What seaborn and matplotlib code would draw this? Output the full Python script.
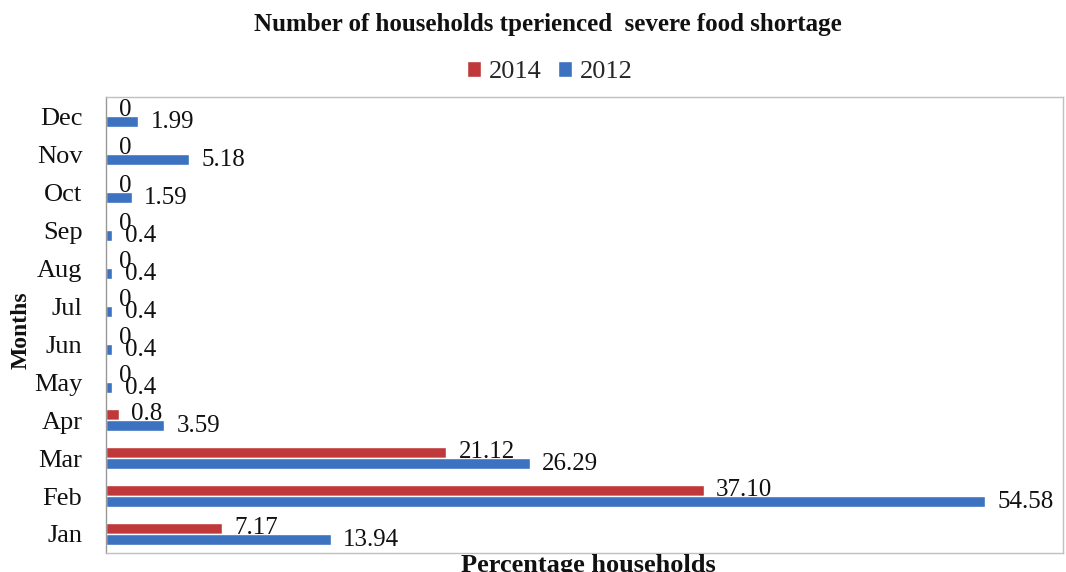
import matplotlib
matplotlib.use("Agg")
import matplotlib.pyplot as plt
import seaborn as sns
import pandas as pd

months = ["Dec", "Nov", "Oct", "Sep", "Aug", "Jul", "Jun", "May", "Apr", "Mar", "Feb", "Jan"]
vals_2014 = [0, 0, 0, 0, 0, 0, 0, 0, 0.8, 21.12, 37.10, 7.17]
vals_2012 = [1.99, 5.18, 1.59, 0.4, 0.4, 0.4, 0.4, 0.4, 3.59, 26.29, 54.58, 13.94]
labels_2014 = ["0", "0", "0", "0", "0", "0", "0", "0", "0.8", "21.12", "37.10", "7.17"]
labels_2012 = ["1.99", "5.18", "1.59", "0.4", "0.4", "0.4", "0.4", "0.4", "3.59", "26.29", "54.58", "13.94"]
series = ["2014", "2012"]

df = pd.DataFrame({
    "Month": months * 2,
    "Value": vals_2014 + vals_2012,
    "Year": [series[0]] * len(months) + [series[1]] * len(months),
})

sns.set_style("white")
plt.rcParams["font.family"] = ["Liberation Serif", "DejaVu Serif"]

fig = plt.figure(figsize=(10.66, 5.72), dpi=100)
ax = fig.add_axes([106 / 1066, 1 - 553 / 572, (1063 - 106) / 1066, (553 - 97) / 572])

palette = {"2014": "#C0393A", "2012": "#3C72C0"}
sns.barplot(data=df, y="Month", x="Value", hue="Year", order=months,
            hue_order=series, palette=palette, orient="h", width=0.62, gap=0.08,
            saturation=1, ax=ax, legend=True)

for cont, labs in zip(ax.containers, [labels_2014, labels_2012]):
    ax.bar_label(cont, labels=labs, padding=9, fontsize=18, color="#111111")

ax.set_xlim(0, 59.4)
ax.set_ylim(len(months) - 0.5, -0.5)
ax.set_xticks([])
ax.set_xlabel("")
ax.set_ylabel("")
ax.tick_params(axis="y", length=0, labelsize=19, pad=17)
for lab in ax.get_yticklabels():
    lab.set_color("#111111")
for side in ["top", "right", "bottom"]:
    ax.spines[side].set_color("#C0C0C0")
    ax.spines[side].set_linewidth(1.0)
ax.spines["left"].set_color("#999999")
ax.spines["left"].set_linewidth(1.0)

# legend above plot
handles, lbls = ax.get_legend_handles_labels()
ax.get_legend().remove()
fig.legend(handles, lbls, loc="center", bbox_to_anchor=(550 / 1066, 1 - 72 / 572),
           ncol=2, frameon=False, fontsize=19, handlelength=0.55, handleheight=0.55,
           handletextpad=0.3, columnspacing=0.6)

fig.text(548 / 1066, 1 - 25 / 572, "Number of households tperienced  severe food shortage",
         ha="center", va="center", fontsize=18, fontweight="bold", color="#111111")
fig.text(21 / 1066, 1 - 330 / 572, "Months", rotation=90, ha="center", va="center",
         fontsize=17, fontweight="bold", color="#111111")
fig.text(588 / 1066, 1 - 554 / 572, "Percentage households", ha="center", va="top",
         fontsize=19, fontweight="bold", color="#111111")

fig.savefig("out.png", dpi=100)
